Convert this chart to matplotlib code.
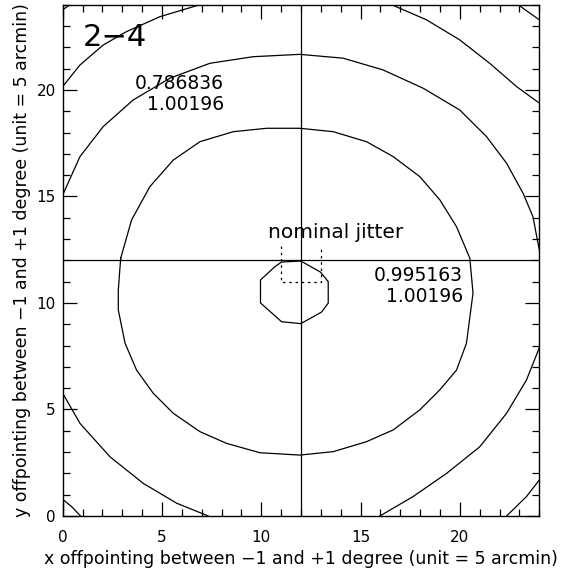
"""Pointing offset contour map, panel 2-4"""

import matplotlib
matplotlib.use("Agg")
import matplotlib.pyplot as plt
from matplotlib.ticker import MultipleLocator


# contour lines (x, y in 5 arcmin units)
jitter_x = [11.99, 12.98, 13.37, 13.37, 13.03, 11.99, 11.02, 9.96, 9.96, 10.68, 11.02, 11.99]
jitter_y = [11.97, 11.45, 11.0, 9.99, 9.57, 9.03, 9.12, 10.0, 11.08, 11.7, 11.92, 11.97]

inner_x = [2.92, 3.47, 4.39, 5.57, 6.91, 8.59, 10.27, 11.94, 13.62, 15.30, 16.64, 17.98,
           18.99, 19.83, 20.50, 20.66, 20.33, 19.83, 18.99, 17.98, 16.64, 15.30, 13.62,
           11.94, 9.93, 8.25, 6.91, 5.57, 4.56, 3.72, 3.14, 2.80, 2.80, 2.92]
inner_y = [12.10, 13.90, 15.46, 16.71, 17.57, 18.04, 18.20, 18.20, 18.04, 17.57, 16.87,
           15.93, 14.84, 13.58, 12.10, 10.46, 8.11, 6.85, 5.92, 4.98, 4.04, 3.49, 3.02,
           2.86, 2.97, 3.41, 3.96, 4.82, 5.76, 6.85, 8.11, 9.67, 10.61, 12.10]

mid_x = [0.0, 0.87, 2.04, 3.55, 5.40, 7.41, 9.59, 11.94, 14.12, 16.13, 18.15, 19.99,
         21.34, 22.35, 23.18, 23.68, 23.90, 24.0]
mid_y = [15.07, 16.87, 18.28, 19.53, 20.55, 21.25, 21.56, 21.67, 21.49, 20.94, 20.08,
         19.06, 17.81, 16.56, 15.15, 14.05, 12.96, 12.5]
mid_low_x = [24.0, 23.35, 22.35, 21.0, 19.33, 17.64, 15.97]
mid_low_y = [7.90, 6.38, 4.82, 3.25, 2.0, 0.91, 0.0]
mid_left_x = [0.0, 0.87, 2.38, 4.06, 5.74, 7.33]
mid_left_y = [5.76, 4.35, 2.78, 1.53, 0.60, 0.0]

outer_tl_x = [0.0, 0.87, 2.04, 3.22, 4.90, 6.91]
outer_tl_y = [20.16, 21.17, 22.11, 22.74, 23.44, 24.0]
outer_tr_x = [16.56, 18.32, 19.99, 21.50, 22.85, 24.0]
outer_tr_y = [24.0, 23.29, 22.35, 21.25, 20.16, 19.38]
outer_br_x = [24.0, 23.35, 22.35]
outer_br_y = [1.69, 0.91, 0.0]
outer_bl_x = [0.0, 0.45, 0.90]
outer_bl_y = [0.78, 0.44, 0.0]

corner_tl_x = [0.0, 0.37]
corner_tl_y = [23.76, 24.0]
corner_tr_x = [22.93, 24.0]
corner_tr_y = [24.0, 23.29]

# nominal jitter box (three sides drawn)
box_x = [11.0, 11.0, 13.0, 13.0]
box_y = [12.68, 11.0, 11.0, 12.68]


plt.rcParams["font.family"] = "DejaVu Sans"
fig = plt.figure(figsize=(5.72, 5.75), dpi=100)
ax = fig.add_axes([0.1096, 0.1026, 0.8333, 0.8892])

lw = 0.9
curves = [(jitter_x, jitter_y), (inner_x, inner_y), (mid_x, mid_y),
          (mid_low_x, mid_low_y), (mid_left_x, mid_left_y),
          (outer_tl_x, outer_tl_y), (outer_tr_x, outer_tr_y),
          (outer_br_x, outer_br_y), (outer_bl_x, outer_bl_y),
          (corner_tl_x, corner_tl_y), (corner_tr_x, corner_tr_y)]
for cx, cy in curves:
    ax.plot(cx, cy, color="black", lw=lw, clip_on=True)

ax.axvline(12, color="black", lw=lw)
ax.axhline(12, color="black", lw=lw)
ax.plot(box_x, box_y, color="black", lw=lw, linestyle=(0, (2, 3)))

ax.text(1.0, 22.45, "2\u22124", fontsize=22, va="center", ha="left")
ax.text(8.12, 19.8, "0.786836\n1.00196", fontsize=13.5, ha="right", va="center",
        linespacing=1.15, multialignment="right")
ax.text(20.16, 10.78, "0.995163\n1.00196", fontsize=13.5, ha="right", va="center",
        linespacing=1.15, multialignment="right")
ax.text(13.75, 13.05, "nominal jitter", fontsize=14.5, ha="center", va="baseline")

ax.set_xlim(0, 24)
ax.set_ylim(0, 24)
ax.xaxis.set_major_locator(MultipleLocator(5))
ax.xaxis.set_minor_locator(MultipleLocator(1))
ax.yaxis.set_major_locator(MultipleLocator(5))
ax.yaxis.set_minor_locator(MultipleLocator(1))
ax.tick_params(which="both", direction="in", top=True, right=True, width=0.9,
               labelsize=11)
ax.tick_params(axis="x", which="major", pad=10)
ax.tick_params(axis="y", which="major", pad=5)
ax.tick_params(which="major", length=10)
ax.tick_params(which="minor", length=5)
for s in ax.spines.values():
    s.set_linewidth(1.0)

ax.set_xlabel("x offpointing between \u22121 and +1 degree (unit = 5 arcmin)", fontsize=12.5)
ax.set_ylabel("y offpointing between \u22121 and +1 degree (unit = 5 arcmin)", fontsize=12.5)

plt.savefig("out.png", dpi=100)
plt.close()
